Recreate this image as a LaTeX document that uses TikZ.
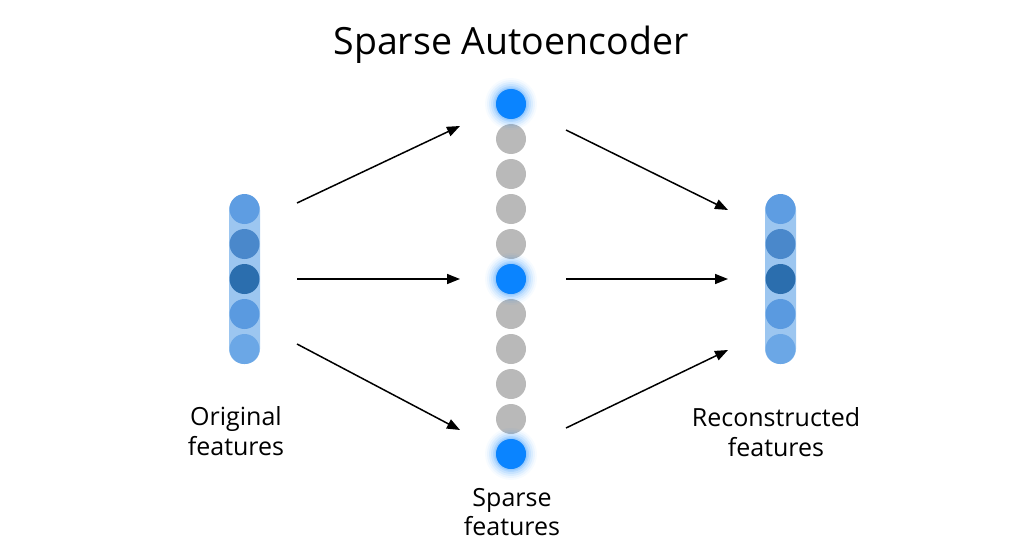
\documentclass[tikz,border=0pt]{standalone}
\usepackage{fontspec}
\setmainfont{Open Sans}
\usetikzlibrary{arrows.meta}
\definecolor{capsule}{HTML}{9CC6F0}
\definecolor{fa}{HTML}{5E9DE2}
\definecolor{fb}{HTML}{4A88CB}
\definecolor{fc}{HTML}{2B6EAE}
\definecolor{fd}{HTML}{5A9AE0}
\definecolor{fe}{HTML}{6BA7E6}
\definecolor{act}{HTML}{0A84FF}
\definecolor{idle}{HTML}{B9B9B9}
\tikzset{
  feat/.style={circle,inner sep=0pt,minimum size=30pt,fill=#1},
  unit/.style={circle,inner sep=0pt,minimum size=30pt,fill=idle},
  capsulebar/.style={fill=capsule,rounded corners=15pt},
  arr/.style={-{Triangle[length=13pt,width=10pt]},line width=1.5pt},
  lbl/.style={font=\fontsize{25}{29.5}\selectfont,align=center,text=black},
}
\begin{document}
\begin{tikzpicture}[x=1pt,y=-1pt]
\useasboundingbox (0,0) rectangle (1024,559);
\node[font=\fontsize{37.5}{44}\selectfont] (title) at (511,45) {Sparse Autoencoder};
% left column
\fill[capsulebar] (229,195) rectangle (260,364);
\foreach \y/\c [count=\i] in {209/fa,244/fb,279/fc,314/fd,349/fe}
  \node[feat=\c] (l\i) at (244.5,\y) {};
% right column
\fill[capsulebar] (765,195) rectangle (796,364);
\foreach \y/\c [count=\i] in {209/fa,244/fb,279/fc,314/fd,349/fe}
  \node[feat=\c] (r\i) at (780.5,\y) {};
% middle column
\foreach \i in {0,...,10}
  \node[unit] (m\i) at (511,104+35*\i) {};
\foreach \k in {0,5,10}{
  \foreach \g/\o in {11/0.03,9/0.05,7/0.07,5/0.09,3/0.12,1.5/0.15}
    \fill[act,opacity=\o] (m\k.center) circle (15+\g);
  \node[feat=act] at (m\k) {};
}
% labels
\node[lbl] (lo) at (236,431) {Original\\features};
\node[lbl] (lm) at (512,512) {Sparse\\features};
\node[lbl] (lr) at (776,432) {Reconstructed\\features};
% arrow end points
\coordinate (a1s) at (297,203); \coordinate (a1e) at (460,126);
\coordinate (a2s) at (297,279); \coordinate (a2e) at (460,279);
\coordinate (a3s) at (297,344); \coordinate (a3e) at (460,430);
\coordinate (b1s) at (566,130); \coordinate (b1e) at (728,210);
\coordinate (b2s) at (566,279); \coordinate (b2e) at (728,279);
\coordinate (b3s) at (566,428); \coordinate (b3e) at (728,350);
\foreach \a in {a1,a2,a3,b1,b2,b3}
  \draw[arr] (\a s) -- (\a e);
\end{tikzpicture}
\end{document}
